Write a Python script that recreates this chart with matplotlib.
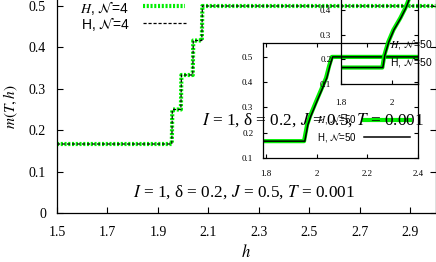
import matplotlib
matplotlib.use("Agg")
import matplotlib.pyplot as plt
from matplotlib.lines import Line2D

plt.rcParams['font.family'] = ['Liberation Serif', 'DejaVu Serif']
plt.rcParams['mathtext.fontset'] = 'stix'

# main curve, N=4 (green dotted and black dashed lie on top of each other)
h_main = [1.5, 1.955, 1.957, 1.991, 1.993, 2.038, 2.040, 2.074, 2.076, 3.0]
m_main = [1/6, 1/6, 0.25, 0.25, 1/3, 1/3, 5/12, 5/12, 0.5, 0.5]

# inset A, N=50
hA_green = [1.788, 1.950, 1.962, 1.974, 1.997, 2.017, 2.037, 2.049, 2.060, 2.40]
mA_green = [1/6, 1/6, 0.231, 0.266, 0.322, 0.369, 0.417, 0.464, 0.5, 0.5]
hA_black = [1.788, 1.953, 1.965, 1.977, 2.000, 2.020, 2.040, 2.052, 2.063, 2.40]
mA_black = [1/6, 1/6, 0.231, 0.266, 0.322, 0.369, 0.417, 0.464, 0.5, 0.5]

# inset B (nested), N=50
hB_green = [1.8, 1.961, 1.969, 1.984, 2.004, 2.031, 2.051, 2.063, 2.078]
mB_green = [1/6, 1/6, 0.217, 0.27, 0.319, 0.367, 0.408, 0.44, 0.48]
hB_black = [1.8, 1.963, 1.971, 1.986, 2.006, 2.033, 2.053, 2.065, 2.080]
mB_black = [1/6, 1/6, 0.217, 0.27, 0.319, 0.367, 0.408, 0.44, 0.48]

main_xticks = [1.5, 1.7, 1.9, 2.1, 2.3, 2.5, 2.7, 2.9]
main_yticks = [0, 0.1, 0.2, 0.3, 0.4, 0.5]
main_ylabels = ["0", "0.1", "0.2", "0.3", "0.4", "0.5"]
A_xticks = [1.8, 2.0, 2.2, 2.4]
A_xlabels = ["1.8", "2", "2.2", "2.4"]
A_yticks = [0.1, 0.2, 0.3, 0.4, 0.5]
B_xticks = [1.8, 2.0]
B_xlabels = ["1.8", "2"]
B_yticks = [0.1, 0.2, 0.3, 0.4]

param_text = r"$I$ = 1, δ = 0.2, $J$ = 0.5, $T$ = 0.001"
GREEN = "#00ee00"

W, H = 436, 262
fig = plt.figure(figsize=(W / 100, H / 100), dpi=100)


def px_axes(left, right, top, bottom):
    return fig.add_axes([left / W, (H - bottom) / H, (right - left) / W, (bottom - top) / H])


def frame(ax, size, pad_x, pad_y, ticklen):
    ax.patch.set_alpha(0)
    ax.tick_params(direction="in", length=ticklen, width=0.8, labelsize=size,
                   top=True, right=True)
    ax.tick_params(axis="x", pad=pad_x)
    ax.tick_params(axis="y", pad=pad_y)
    for s in ax.spines.values():
        s.set_linewidth(0.9)


# ---- main plot
ax = px_axes(57, 435.5, 0, 213)
ax.set_xlim(1.5, 3.0)
ax.set_ylim(0, 0.5 + 6 / 414)
ax.plot(h_main, m_main, color=GREEN, lw=3.0, dashes=(0.5, 0.4), solid_capstyle="butt",
        dash_capstyle="butt")
ax.plot(h_main, m_main, color="black", lw=0.9, dashes=(2.5, 1.5))
ax.set_xticks(main_xticks)
ax.set_xticklabels([str(t) for t in main_xticks])
ax.set_yticks(main_yticks)
ax.set_yticklabels(main_ylabels)
frame(ax, 10, 9, 8, 4)
ax.spines["top"].set_visible(False)
ax.tick_params(top=False)
ax.set_xlabel(r"$h$", fontsize=12, labelpad=4)
ax.set_ylabel(r"$m(T,h)$", fontsize=11, labelpad=6)

fig.text(133 / W, 1 - 192 / H, param_text, fontsize=12.4, va="center", ha="left")

# main legend
fig.text(129 / W, 1 - 8 / H, r"$H$, $\mathcal{N}$=4", fontsize=10, ha="right", va="center",
         family="Liberation Sans")
fig.text(129 / W, 1 - 24 / H, r"H, $\mathcal{N}$=4", fontsize=10, ha="right", va="center",
         family="Liberation Sans")
fig.add_artist(Line2D([143 / W, 185 / W], [1 - 6 / H, 1 - 6 / H], color=GREEN, lw=3.0,
                      dashes=(0.5, 0.4), dash_capstyle="butt"))
fig.add_artist(Line2D([143 / W, 186 / W], [1 - 23 / H, 1 - 23 / H], color="black", lw=0.9,
                      dashes=(2.5, 1.5)))

# ---- inset A
axA = px_axes(263, 418, 43, 158)
axA.set_xlim(1.788, 2.4)
axA.set_ylim(0.1, 0.555)
axA.plot(hA_green, mA_green, color=GREEN, lw=3.0)
axA.plot(hA_black, mA_black, color="black", lw=1.1)
axA.set_xticks(A_xticks)
axA.set_xticklabels(A_xlabels)
axA.set_yticks(A_yticks)
frame(axA, 6.5, 9, 7, 3)

# inset A legend
fig.text(357 / W, 1 - 120 / H, r"$H$, $\mathcal{N}$=50", fontsize=7, ha="right", va="center",
         family="Liberation Sans")
fig.text(357 / W, 1 - 137 / H, r"H, $\mathcal{N}$=50", fontsize=7, ha="right", va="center",
         family="Liberation Sans")
fig.text(202 / W, 1 - 120 / H, param_text, fontsize=12.4, va="center", ha="left")
fig.add_artist(Line2D([364 / W, 410 / W], [1 - 120 / H, 1 - 120 / H], color=GREEN, lw=3.0))
fig.add_artist(Line2D([364 / W, 410 / W], [1 - 137 / H, 1 - 137 / H], color="black", lw=1.1))

# ---- inset B (nested, top runs off the picture)
axB = px_axes(341, 418, 84 - 0.4 * 247, 84)
axB.set_xlim(1.8, 2.1)
axB.set_ylim(0.1, 0.5)
axB.plot(hB_green, mB_green, color=GREEN, lw=3.0)
axB.plot(hB_black, mB_black, color="black", lw=1.1)
axB.set_xticks(B_xticks)
axB.set_xticklabels(B_xlabels)
axB.set_yticks(B_yticks)
frame(axB, 6.5, 11, 7, 3)

fig.text(432 / W, 1 - 44 / H, r"$H$, $\mathcal{N}$=50", fontsize=7.5, ha="right", va="center",
         family="Liberation Sans")
fig.text(432 / W, 1 - 62 / H, r"H, $\mathcal{N}$=50", fontsize=7.5, ha="right", va="center",
         family="Liberation Sans")

fig.savefig("out.png", dpi=100)
